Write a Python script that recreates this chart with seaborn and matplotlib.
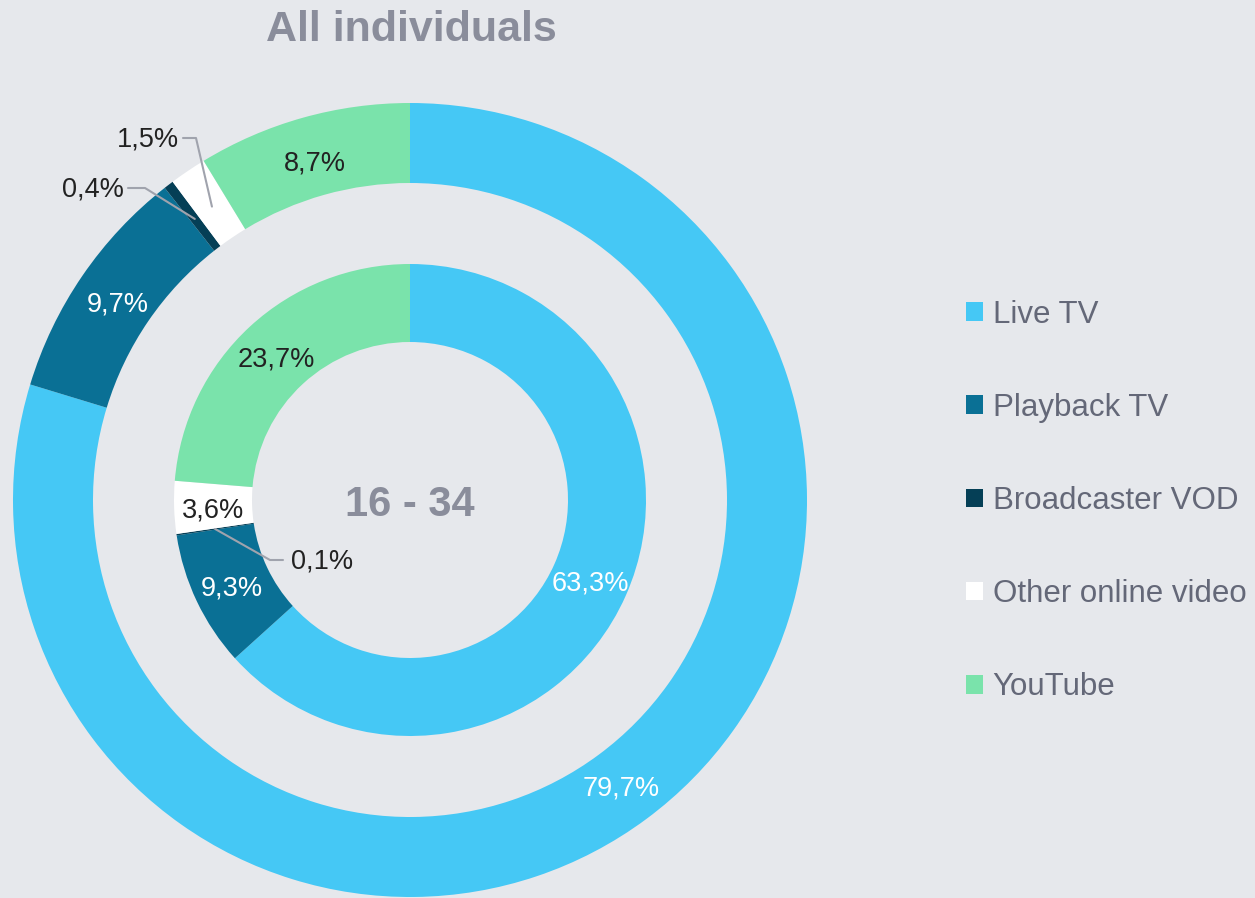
import numpy as np
import matplotlib
matplotlib.use("Agg")
import matplotlib.pyplot as plt
import seaborn as sns

categories = ["Live TV", "Playback TV", "Broadcaster VOD", "Other online video", "YouTube"]
all_individuals = [79.7, 9.7, 0.4, 1.5, 8.7]
age_16_34 = [63.3, 9.3, 0.1, 3.6, 23.7]
colors = ["#45C8F5", "#0A7095", "#053F56", "#FFFFFF", "#7AE3AB"]
label_colors = ["white", "white", "#222222", "#222222", "#222222"]

title = "All individuals"
center_text = "16 - 34"

BG = "#E6E8EC"
GREY = "#8A8D9B"
LEGEND_TXT = "#646878"
LINE = "#A0A3AD"

sns.set_theme(style="white", rc={"figure.facecolor": BG, "axes.facecolor": BG})
plt.rcParams["font.family"] = ["Liberation Sans", "DejaVu Sans"]


def fmt(v):
    return f"{v:.1f}".replace(".", ",") + "%"


def mid_point(w, r):
    ang = np.deg2rad((w.theta1 + w.theta2) / 2)
    return r * np.cos(ang), r * np.sin(ang)


fig = plt.figure(figsize=(12.55, 8.98), dpi=100)
ax = fig.add_axes([0, 0, 1, 1])

R_OUT, W_OUT = 397, 80
R_IN, W_IN = 236, 78

outer, _ = ax.pie(all_individuals, radius=R_OUT, startangle=90, counterclock=False,
                  colors=colors, wedgeprops=dict(width=W_OUT, linewidth=0))
inner, _ = ax.pie(age_16_34, radius=R_IN, startangle=90, counterclock=False,
                  colors=colors, wedgeprops=dict(width=W_IN, linewidth=0))

ax.set_xlim(-410, 845)
ax.set_ylim(-398, 500)
ax.set_aspect("equal")
ax.axis("off")

r_mid_out = R_OUT - W_OUT / 2 - 3
r_mid_in = R_IN - W_IN / 2
FS = 19.5

# labels drawn inside the wedges
for i, (w, v) in enumerate(zip(outer, all_individuals)):
    if v < 2:
        continue
    x, y = mid_point(w, r_mid_out)
    ax.text(x, y - 4, fmt(v), ha="center", va="center", fontsize=FS, color=label_colors[i])

for i, (w, v) in enumerate(zip(inner, age_16_34)):
    if v < 1:
        continue
    x, y = mid_point(w, r_mid_in)
    ax.text(x, y - 4, fmt(v), ha="center", va="center", fontsize=FS, color=label_colors[i])

# small slices with leader lines
callouts = [
    (outer[3], r_mid_out, all_individuals[3], (-214, 362), (-227, 362), "right"),
    (outer[2], r_mid_out, all_individuals[2], (-265, 312), (-282, 312), "right"),
    (inner[2], r_mid_in, age_16_34[2], (-140, -60), (-127, -60), "left"),
]
for w, r, v, elbow, end, side in callouts:
    x, y = mid_point(w, r)
    ax.plot([x, elbow[0], end[0]], [y, elbow[1], end[1]], color=LINE, lw=1.5)
    tx = end[0] - 4 if side == "right" else end[0] + 8
    ax.text(tx, end[1] - 2, fmt(v), ha=side, va="center", fontsize=FS, color="#222222")

ax.text(0, -5, center_text, ha="center", va="center", fontsize=30,
        fontweight="bold", color=GREY)
fig.text(411 / 1255, 1 - 30 / 898, title, ha="center", va="center", fontsize=31,
         fontweight="bold", color=GREY)

leg = fig.legend(outer, categories, loc="center left",
                 bbox_to_anchor=(966 / 1255, 1 - 501 / 898), frameon=False,
                 fontsize=22.5, handlelength=0.55, handleheight=0.55,
                 handletextpad=0.3, labelspacing=2.02, borderpad=0, borderaxespad=0)
for t in leg.get_texts():
    t.set_color(LEGEND_TXT)

fig.savefig("out.png", dpi=100, facecolor=BG)
